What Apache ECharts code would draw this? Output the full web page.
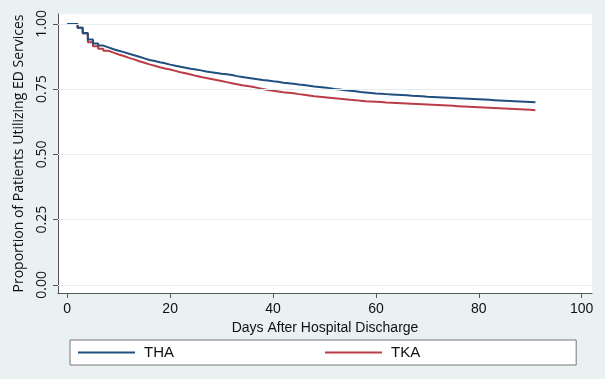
<!DOCTYPE html>
<html>
<head>
<meta charset="utf-8">
<script src="https://cdn.jsdelivr.net/npm/echarts@6/dist/echarts.min.js"></script>
<style>
  html, body { margin: 0; padding: 0; background: #e9f1f3; }
  #chart { width: 605px; height: 379px; }
</style>
</head>
<body>
<div id="chart"></div>
<script>
// days after discharge, 0..91
const days = []
for (let d = 0; d <= 91; d++) days.push(d)

// proportion still not using ED services
const tha = [
  1.000, 1.000, 0.985, 0.965, 0.940, 0.925, 0.917, 0.910, 0.903, 0.897,
  0.892, 0.886, 0.880, 0.874, 0.868, 0.862, 0.858, 0.853, 0.849, 0.844,
  0.840, 0.836, 0.832, 0.828, 0.825, 0.822, 0.818, 0.815, 0.812, 0.809,
  0.807, 0.804, 0.800, 0.797, 0.794, 0.791, 0.788, 0.785, 0.783, 0.780,
  0.778, 0.775, 0.773, 0.771, 0.768, 0.766, 0.763, 0.760, 0.758, 0.756,
  0.754, 0.751, 0.749, 0.746, 0.744, 0.742, 0.739, 0.737, 0.735, 0.733,
  0.732, 0.731, 0.730, 0.729, 0.728, 0.727, 0.725, 0.724, 0.723, 0.721,
  0.720, 0.719, 0.718, 0.717, 0.716, 0.715, 0.714, 0.713, 0.712, 0.711,
  0.710, 0.709, 0.708, 0.707, 0.706, 0.705, 0.704, 0.703, 0.702, 0.701,
  0.700, 0.699
]
const tka = [
  1.000, 1.000, 0.985, 0.963, 0.930, 0.914, 0.905, 0.897, 0.890, 0.883,
  0.877, 0.870, 0.864, 0.857, 0.851, 0.845, 0.840, 0.834, 0.829, 0.825,
  0.820, 0.815, 0.811, 0.806, 0.801, 0.797, 0.793, 0.789, 0.785, 0.781,
  0.777, 0.773, 0.769, 0.765, 0.762, 0.759, 0.755, 0.751, 0.747, 0.744,
  0.741, 0.738, 0.736, 0.734, 0.731, 0.729, 0.726, 0.723, 0.721, 0.719,
  0.717, 0.715, 0.713, 0.711, 0.709, 0.708, 0.706, 0.704, 0.703, 0.702,
  0.701, 0.699, 0.698, 0.697, 0.696, 0.695, 0.694, 0.693, 0.692, 0.691,
  0.690, 0.689, 0.688, 0.687, 0.686, 0.685, 0.684, 0.683, 0.682, 0.681,
  0.680, 0.679, 0.678, 0.677, 0.676, 0.675, 0.674, 0.673, 0.672, 0.671,
  0.669, 0.667
]

const xTicks = [0, 20, 40, 60, 80, 100]
const yTicks = [0, 0.25, 0.5, 0.75, 1]

const chart = echarts.init(document.getElementById('chart'))

const pairs = (ys) => days.map((d, i) => [d, ys[i]])

const option = {
  backgroundColor: '#e9f1f3',
  animation: false,
  grid: {
    left: 58, right: 13, top: 14, bottom: 86,
    outerBoundsMode: 'none',
    show: true, backgroundColor: '#ffffff', borderWidth: 0
  },
  legend: {
    left: 70, top: 340,
    padding: [5, 156, 5, 8],
    icon: 'rect',
    itemWidth: 57, itemHeight: 2, itemGap: 151,
    backgroundColor: '#ffffff',
    borderColor: '#777', borderWidth: 1,
    textStyle: { fontFamily: 'Liberation Sans', fontSize: 15, color: '#111', padding: [0, 0, 0, 4] },
    data: ['THA', 'TKA']
  },
  xAxis: {
    type: 'value', min: -1.8, max: 102,
    name: 'Days After Hospital Discharge',
    nameLocation: 'middle', nameGap: 26,
    nameTextStyle: { fontFamily: 'Liberation Sans', fontSize: 14, color: '#111' },
    axisLine: { onZero: false, lineStyle: { color: '#555', width: 1 } },
    axisTick: { customValues: xTicks, length: 5, lineStyle: { color: '#555' } },
    axisLabel: { customValues: xTicks, margin: 9, fontFamily: 'Liberation Sans', fontSize: 14, color: '#111' },
    splitLine: { show: false }
  },
  yAxis: {
    type: 'value', min: -0.031, max: 1.038,
    name: 'Proportion of Patients Utilizing ED Services',
    nameLocation: 'middle', nameGap: 32,
    nameTextStyle: { fontFamily: 'Open Sans', fontSize: 14, color: '#111' },
    axisLine: { show: true, onZero: false, lineStyle: { color: '#555', width: 1 } },
    axisTick: { show: true, customValues: yTicks, length: 5, lineStyle: { color: '#555' } },
    axisLabel: {
      customValues: yTicks, rotate: 90, margin: 9,
      fontFamily: 'Open Sans', fontSize: 14, color: '#111',
      formatter: (v) => v.toFixed(2)
    },
    splitLine: { show: false }
  },
  series: [
    {
      name: 'THA', type: 'line', step: 'end', symbol: 'none',
      data: pairs(tha),
      lineStyle: { color: '#1f4f7e', width: 2 },
      itemStyle: { color: '#1f4f7e' },
      z: 3,
      markLine: {
        silent: true, symbol: 'none', label: { show: false },
        lineStyle: { color: '#e4eef0', width: 1, type: 'solid' },
        data: yTicks.map((v) => ({ yAxis: v }))
      }
    },
    {
      name: 'TKA', type: 'line', step: 'end', symbol: 'none',
      data: pairs(tka),
      lineStyle: { color: '#b93d47', width: 2 },
      itemStyle: { color: '#b93d47' },
      z: 2
    }
  ]
}

chart.setOption(option)
</script>
</body>
</html>
